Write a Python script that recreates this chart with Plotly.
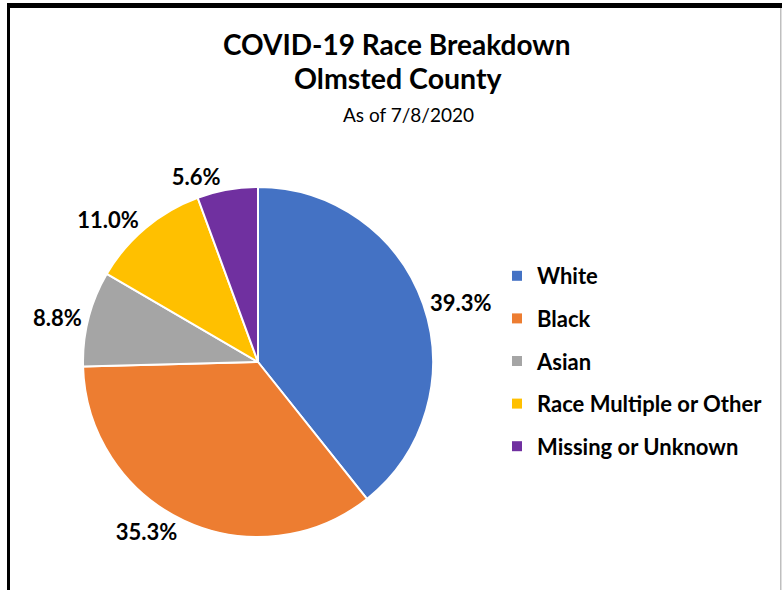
import plotly.graph_objects as go

categories = ["White", "Black", "Asian", "Race Multiple or Other", "Missing or Unknown"]
values = [39.3, 35.3, 8.8, 11.0, 5.6]
colors = ["#4472C4", "#ED7D31", "#A5A5A5", "#FFC000", "#7030A0"]
title_lines = ["COVID-19 Race Breakdown", "Olmsted County", "As of 7/8/2020"]

W, H = 782, 590
FONT = "Lato"

fig = go.Figure()
fig.add_trace(go.Pie(
    labels=categories, values=values, sort=False, direction="clockwise", rotation=0,
    marker=dict(colors=colors, line=dict(color="white", width=2)),
    texttemplate="%{value:.1f}%", textposition="outside",
    textfont=dict(family=FONT, size=22, color="#000000", weight="bold"),
    showlegend=False, hoverinfo="label+value",
    domain=dict(x=[83 / W, 433 / W], y=[1 - 537 / H, 1 - 187 / H]),
))

for i, (c, col) in enumerate(zip(categories, colors)):
    fig.add_trace(go.Scatter(
        x=[None], y=[None], mode="markers", name=c, legendgroup=f"g{i}",
        marker=dict(symbol="square", size=10, color=col),
    ))

fig.add_annotation(x=397 / W, y=1 - 44 / H, xref="paper", yref="paper", yanchor="middle",
                   text=f"<b>{title_lines[0]}</b>",
                   showarrow=False, font=dict(family=FONT, size=28, color="#000000"))
fig.add_annotation(x=398 / W, y=1 - 78 / H, xref="paper", yref="paper", yanchor="middle",
                   text=f"<b>{title_lines[1]}</b>",
                   showarrow=False, font=dict(family=FONT, size=28.5, color="#000000"))
fig.add_annotation(x=408 / W, y=1 - 114 / H, xref="paper", yref="paper", yanchor="middle",
                   text=title_lines[2],
                   showarrow=False, font=dict(family=FONT, size=19, color="#000000"))

# chart border (filled strips)
fig.add_shape(type="rect", xref="paper", yref="paper", x0=7 / W, x1=10 / W, y0=-0.05, y1=1 - 3 / H,
              fillcolor="black", line=dict(width=0), layer="above")
fig.add_shape(type="rect", xref="paper", yref="paper", x0=7 / W, x1=782 / W, y0=1 - 8 / H, y1=1 - 3 / H,
              fillcolor="black", line=dict(width=0), layer="above")
fig.add_shape(type="rect", xref="paper", yref="paper", x0=780 / W, x1=781.5 / W, y0=-0.05, y1=1 - 8 / H,
              fillcolor="#BFBFBF", line=dict(width=0), layer="above")

fig.update_layout(
    width=W, height=H, margin=dict(l=0, r=0, t=0, b=0),
    paper_bgcolor="white", plot_bgcolor="white",
    xaxis=dict(visible=False), yaxis=dict(visible=False),
    legend=dict(x=497 / W, xanchor="left", y=1 - 361 / H, yanchor="middle",
                font=dict(family=FONT, size=22, color="#000000", weight="bold"),
                tracegroupgap=11, bgcolor="rgba(0,0,0,0)"),
    font=dict(family=FONT),
)

fig.write_html("out.html", config={"displayModeBar": False},
               post_script="document.body.style.margin='0';document.body.style.overflow='hidden';")
